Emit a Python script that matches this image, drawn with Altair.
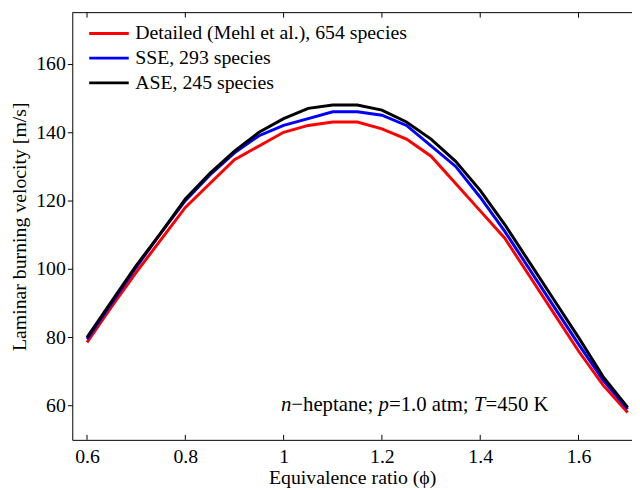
import altair as alt
import pandas as pd

# ---- data ----
phi = [0.6, 0.65, 0.7, 0.75, 0.8, 0.85, 0.9, 0.95, 1.0, 1.05, 1.1, 1.15,
       1.2, 1.25, 1.3, 1.35, 1.4, 1.45, 1.5, 1.55, 1.6, 1.65, 1.7]
detailed = [78.5, 89, 99, 108.5, 118, 125, 132, 136, 140, 142, 143, 143,
            141, 138, 133, 125, 117, 109, 98, 87, 76, 66, 58]
sse = [79.5, 90, 100.5, 110.5, 120, 127.5, 134, 139, 142, 144, 146, 146,
       145, 142, 136, 130, 121, 111, 100, 89, 78, 67.5, 59]
ase = [80, 90.5, 101, 110.5, 120.5, 128, 134.5, 140, 144, 147, 148, 148,
       146.5, 143, 138, 131.5, 123, 113, 102, 91, 80, 68.5, 59.5]
series_names = ["Detailed (Mehl et al.), 654 species", "SSE, 293 species", "ASE, 245 species"]
series_colors = ["#ff0000", "#0000ff", "#000000"]
x_ticks = [0.6, 0.8, 1.0, 1.2, 1.4, 1.6]
y_ticks = [60, 80, 100, 120, 140, 160]
ann_parts = ["n", "\u2212heptane;", "p", "=1.0 atm;", "T", "=450 K"]
ann_italic = [True, False, True, False, True, False]
ann_offsets = [0, 10.5, 98.7, 109.2, 195.1, 206.8]

FONT = "Liberation Serif"
W, H = 566, 432
X0, Y0 = 0.57, 0.57 + W / 497.0

rows = []
for name, vals in zip(series_names, [detailed, sse, ase]):
    for p, v in zip(phi, vals):
        rows.append({"phi": p, "v": v, "series": name})
df = pd.DataFrame(rows)

xscale = alt.Scale(domain=[X0, Y0], nice=False, zero=False)
yscale = alt.Scale(domain=[50, 175], nice=False, zero=False)

lines = alt.Chart(df).mark_line(strokeWidth=3, clip=True).encode(
    x=alt.X("phi:Q", scale=xscale, axis=alt.Axis(
        values=x_ticks, ticks=False, format="~g", grid=False,
        labelFont=FONT, labelFontSize=20, labelColor="black", labelPadding=7,
        domainColor="black", domainWidth=1,
        title="Equivalence ratio (\u03d5)", titleFont=FONT, titleFontSize=20,
        titleFontWeight="normal", titleColor="black", titlePadding=1)),
    y=alt.Y("v:Q", scale=yscale, axis=alt.Axis(
        values=y_ticks, tickSize=5, tickColor="black", grid=False,
        labelFont=FONT, labelFontSize=20, labelColor="black", labelPadding=2,
        domainColor="black", domainWidth=1,
        title="Laminar burning velocity [m/s]", titleFont=FONT, titleFontSize=20,
        titleFontWeight="normal", titleColor="black", titlePadding=6)),
    color=alt.Color("series:N", sort=series_names,
                    scale=alt.Scale(domain=series_names, range=series_colors),
                    legend=alt.Legend(orient="none", legendX=15.6, legendY=9, title=None,
                                      symbolType="stroke", symbolSize=1600, symbolStrokeWidth=3,
                                      labelFont=FONT, labelFontSize=20, labelColor="black",
                                      clipHeight=24, rowPadding=1, labelOffset=5,
                                      padding=0, labelLimit=0)),
)

tick_df = pd.DataFrame({"phi": x_ticks})
bottom_ticks = alt.Chart(tick_df).mark_rule(color="black", strokeWidth=1).encode(
    x=alt.X("phi:Q", scale=xscale), y=alt.value(H - 5), y2=alt.value(H))
top_ticks = alt.Chart(tick_df).mark_rule(color="black", strokeWidth=1).encode(
    x=alt.X("phi:Q", scale=xscale), y=alt.value(0), y2=alt.value(5))
top_border = alt.Chart(pd.DataFrame({"a": [0]})).mark_rule(color="black", strokeWidth=1).encode(
    x=alt.value(0), x2=alt.value(W), y=alt.value(0))

ann_layers = []
one = pd.DataFrame({"a": [0]})
for txt, it, off in zip(ann_parts, ann_italic, ann_offsets):
    ann_layers.append(
        alt.Chart(one).mark_text(font=FONT, fontSize=21, fontStyle="italic" if it else "normal",
                                 align="left", baseline="middle", color="black").encode(
            x=alt.value(211 + off), y=alt.value(397), text=alt.value(txt)))

chart = alt.layer(lines, bottom_ticks, top_ticks, top_border, *ann_layers).properties(
    width=W, height=H,
    autosize=alt.AutoSizeParams(type="none"),
    padding={"left": 65, "top": 2, "right": 0, "bottom": 48},
).configure_view(stroke=None)

chart.save("out.html", embed_options={"renderer": "svg", "actions": False})
